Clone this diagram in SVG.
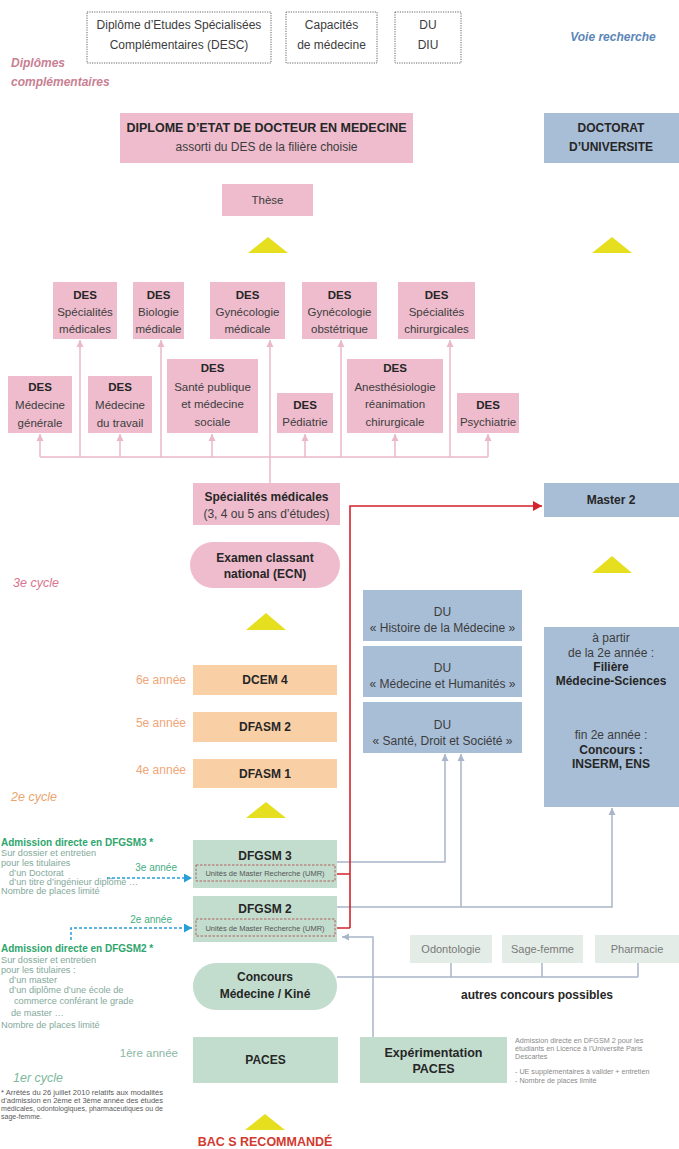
<svg xmlns="http://www.w3.org/2000/svg" width="679" height="1149" viewBox="0 0 679 1149">
<style>
text{font-family:"Liberation Sans",Arial,sans-serif;fill:#3c3c3c}
.c{text-anchor:middle;font-size:12px}
.b{font-weight:bold;fill:#262626}
.s{font-size:11.5px}
.pink{fill:#eebccd}
.blue{fill:#a8bed6}
.orange{fill:#f9cfa6}
.green{fill:#c2ddce}
.pale{fill:#e3ece6}
.dot{fill:#fff;stroke:#666;stroke-width:1;stroke-dasharray:1.2 1.2}
.tri{fill:#e5df1f}
.pl{fill:none;stroke:#eab9c9;stroke-width:1.5}
.gl{fill:none;stroke:#a9b5c8;stroke-width:1.5}
.rl{fill:none;stroke:#d4232b;stroke-width:1.6}
.bl{fill:none;stroke:#2a9fd6;stroke-width:1.5;stroke-dasharray:3 2}
.umr{fill:none;stroke:#b0605c;stroke-width:1;stroke-dasharray:2.5 1.5}
.gh{font-size:10px;font-weight:bold;fill:#2ea56c}
.gt{font-size:9.2px;fill:#83a99a}
.or{fill:#f1a678;font-size:12px;text-anchor:end}
.gr{fill:#45ad82;font-size:10px;text-anchor:end}
.small{font-size:7.2px;fill:#8a8a8a}
.foot{font-size:7px;fill:#5a5a5a}
.lab{font-style:italic;font-size:12.5px}
</style>
<defs>
<marker id="ap" markerUnits="userSpaceOnUse" markerWidth="8" markerHeight="8" refX="7" refY="4" orient="auto"><path d="M0,0.5 L7,4 L0,7.5z" fill="#eab9c9"/></marker>
<marker id="ag" markerUnits="userSpaceOnUse" markerWidth="8" markerHeight="8" refX="7" refY="4" orient="auto"><path d="M0,0.5 L7,4 L0,7.5z" fill="#a9b5c8"/></marker>
<marker id="ar" markerUnits="userSpaceOnUse" markerWidth="10" markerHeight="10" refX="9" refY="5" orient="auto"><path d="M0,0 L9,5 L0,10z" fill="#d4232b"/></marker>
<marker id="ab" markerUnits="userSpaceOnUse" markerWidth="9" markerHeight="9" refX="8" refY="4.5" orient="auto"><path d="M0,0 L8,4.5 L0,9z" fill="#2a9fd6"/></marker>
</defs>
<rect width="679" height="1149" fill="#fff"/>

<!-- labels -->
<g id="labels">
<text x="11" y="67" style="font-size:12px;font-weight:bold;font-style:italic;fill:#c97f92">Diplômes</text>
<text x="11" y="86" style="font-size:12px;font-weight:bold;font-style:italic;fill:#c97f92">complémentaires</text>
<text x="613" y="41" style="font-size:12px;font-weight:bold;font-style:italic;fill:#5b86b8;text-anchor:middle">Voie recherche</text>
<text class="lab" x="13" y="587" style="fill:#d9758e">3e cycle</text>
<text class="lab" x="11" y="801" style="fill:#eba46e">2e cycle</text>
<text class="lab" x="13" y="1082" style="fill:#7db89c">1er cycle</text>
<text class="or" x="186" y="684">6e année</text>
<text class="or" x="186" y="727">5e année</text>
<text class="or" x="186" y="774">4e année</text>
<text class="gr" x="177" y="871">3e année</text>
<text class="gr" x="172" y="923">2e année</text>
<text x="178" y="1057" style="font-size:11.5px;fill:#8cb6a3;text-anchor:end">1ère année</text>
</g>

<g id="admission-dfgsm3">
<text class="gh" x="1" y="846">Admission directe en DFGSM3 *</text>
<text class="gt" x="1" y="856">Sur dossier et entretien</text>
<text class="gt" x="1" y="866">pour les titulaires</text>
<text class="gt" x="9" y="876">d’un Doctorat</text>
<text class="gt" x="9" y="885">d’un titre d’ingénieur diplômé …</text>
<text class="gt" x="1" y="894">Nombre de places limité</text>
</g>
<g id="admission-dfgsm2">
<text class="gh" x="1" y="952">Admission directe en DFGSM2 *</text>
<text class="gt" x="1" y="963">Sur dossier et entretien</text>
<text class="gt" x="1" y="973">pour les titulaires :</text>
<text class="gt" x="9" y="983">d’un master</text>
<text class="gt" x="9" y="993">d’un diplôme d’une école de</text>
<text class="gt" x="14" y="1004">commerce conférant le grade</text>
<text class="gt" x="11" y="1016">de master …</text>
<text class="gt" x="1" y="1028">Nombre de places limité</text>
</g>
<g id="footnote">
<text class="foot" x="1" y="1094.5" textLength="162" lengthAdjust="spacingAndGlyphs">* Arrêtés du 26 juillet 2010 relatifs aux modalités</text>
<text class="foot" x="1" y="1102.5" textLength="162" lengthAdjust="spacingAndGlyphs">d’admission en 2ème et 3ème année des études</text>
<text class="foot" x="1" y="1110.5" textLength="162" lengthAdjust="spacingAndGlyphs">médicales, odontologiques, pharmaceutiques ou de</text>
<text class="foot" x="1" y="1119">sage-femme.</text>
</g>

<!-- connectors -->
<g id="connectors">
<path class="pl" d="M40,457 H488"/>
<path class="pl" d="M270,483 V340" marker-end="url(#ap)"/>
<path class="pl" d="M80,457 V340" marker-end="url(#ap)"/>
<path class="pl" d="M161,457 V340" marker-end="url(#ap)"/>
<path class="pl" d="M341,457 V340" marker-end="url(#ap)"/>
<path class="pl" d="M450,457 V340" marker-end="url(#ap)"/>
<path class="pl" d="M40,457 V434" marker-end="url(#ap)"/>
<path class="pl" d="M120,457 V434" marker-end="url(#ap)"/>
<path class="pl" d="M212,457 V434" marker-end="url(#ap)"/>
<path class="pl" d="M305,457 V434" marker-end="url(#ap)"/>
<path class="pl" d="M395,457 V434" marker-end="url(#ap)"/>
<path class="pl" d="M488,457 V434" marker-end="url(#ap)"/>
<path class="gl" d="M337,862 H445 V754" marker-end="url(#ag)"/>
<path class="gl" d="M337,907 H612 V808" marker-end="url(#ag)"/>
<path class="gl" d="M461,907 V754" marker-end="url(#ag)"/>
<path class="gl" d="M373,1037 V937 H342" marker-end="url(#ag)"/>
<path class="gl" d="M337,977 H638 M451,963 V977 M542,963 V977 M638,963 V977"/>
<path class="rl" d="M335,874 H350 M335,928 H350 M350,928 V506 H542" marker-end="url(#ar)"/>
<path class="bl" d="M107,878 H192" marker-end="url(#ab)"/>
<path class="bl" d="M71,940 V928 H192" marker-end="url(#ab)"/>
</g>

<g id="arrows">
<polygon class="tri" points="248,253 288,253 268,237"/>
<polygon class="tri" points="592,253 632,253 612,237"/>
<polygon class="tri" points="592,573 632,573 612,556"/>
<polygon class="tri" points="246,630 286,630 266,613"/>
<polygon class="tri" points="246,818 286,818 266,802"/>
<polygon class="tri" points="245,1130 285,1130 265,1114"/>
</g>

<!-- top complementary diplomas -->
<g id="desc"><rect class="dot" x="87" y="12" width="184" height="51"/><text class="c" x="179" y="29">Diplôme d’Etudes Spécialisées</text><text class="c" x="179" y="49">Complémentaires (DESC)</text></g>
<g id="capacites"><rect class="dot" x="286" y="12" width="91" height="51"/><text class="c" x="331.5" y="29">Capacités</text><text class="c" x="331.5" y="49">de médecine</text></g>
<g id="du-diu"><rect class="dot" x="395" y="12" width="66" height="51"/><text class="c" x="428" y="29">DU</text><text class="c" x="428" y="49">DIU</text></g>

<g id="diplome"><rect class="pink" x="120" y="113" width="293" height="50"/><text class="c b" x="266.5" y="132" style="font-size:12.5px">DIPLOME D’ETAT DE DOCTEUR EN MEDECINE</text><text class="c" x="266.5" y="151">assorti du DES de la filière choisie</text></g>
<g id="doctorat"><rect class="blue" x="544" y="113" width="135" height="50"/><text class="c b" x="611" y="132">DOCTORAT</text><text class="c b" x="611" y="151">D’UNIVERSITE</text></g>
<g id="these"><rect class="pink" x="222" y="184" width="91" height="32"/><text class="c s" x="267.5" y="204">Thèse</text></g>

<!-- DES row 1 -->
<g id="des-spec-med"><rect class="pink" x="53" y="282" width="64" height="57"/><text class="c s b" x="85" y="299">DES</text><text class="c s" x="85" y="316">Spécialités</text><text class="c s" x="85" y="333">médicales</text></g>
<g id="des-bio"><rect class="pink" x="133" y="282" width="51" height="57"/><text class="c s b" x="158.5" y="299">DES</text><text class="c s" x="158.5" y="316">Biologie</text><text class="c s" x="158.5" y="333">médicale</text></g>
<g id="des-gyn-med"><rect class="pink" x="210" y="282" width="75" height="57"/><text class="c s b" x="247.5" y="299">DES</text><text class="c s" x="247.5" y="316">Gynécologie</text><text class="c s" x="247.5" y="333">médicale</text></g>
<g id="des-gyn-obs"><rect class="pink" x="302" y="282" width="75" height="57"/><text class="c s b" x="339.5" y="299">DES</text><text class="c s" x="339.5" y="316">Gynécologie</text><text class="c s" x="339.5" y="333">obstétrique</text></g>
<g id="des-spec-chir"><rect class="pink" x="398" y="282" width="77" height="57"/><text class="c s b" x="436.5" y="299">DES</text><text class="c s" x="436.5" y="316">Spécialités</text><text class="c s" x="436.5" y="333">chirurgicales</text></g>

<!-- DES row 2 -->
<g id="des-med-gen"><rect class="pink" x="8" y="376" width="64" height="57"/><text class="c s b" x="40" y="391">DES</text><text class="c s" x="40" y="409">Médecine</text><text class="c s" x="40" y="427">générale</text></g>
<g id="des-med-trav"><rect class="pink" x="88" y="376" width="64" height="57"/><text class="c s b" x="120" y="391">DES</text><text class="c s" x="120" y="409">Médecine</text><text class="c s" x="120" y="427">du travail</text></g>
<g id="des-sante"><rect class="pink" x="167" y="359" width="91" height="74"/><text class="c s b" x="212.5" y="372">DES</text><text class="c s" x="212.5" y="391">Santé publique</text><text class="c s" x="212.5" y="408">et médecine</text><text class="c s" x="212.5" y="426">sociale</text></g>
<g id="des-ped"><rect class="pink" x="277" y="393" width="56" height="40"/><text class="c s b" x="305" y="409">DES</text><text class="c s" x="305" y="426">Pédiatrie</text></g>
<g id="des-anesth"><rect class="pink" x="347" y="359" width="96" height="74"/><text class="c s b" x="395" y="372">DES</text><text class="c s" x="395" y="391">Anesthésiologie</text><text class="c s" x="395" y="408">réanimation</text><text class="c s" x="395" y="426">chirurgicale</text></g>
<g id="des-psy"><rect class="pink" x="457" y="393" width="62" height="40"/><text class="c s b" x="488" y="409">DES</text><text class="c s" x="488" y="426">Psychiatrie</text></g>

<!-- main column -->
<g id="spec-med"><rect class="pink" x="193" y="483" width="147" height="42"/><text class="c b" x="266.5" y="501">Spécialités médicales</text><text class="c" x="266.5" y="518">(3, 4 ou 5 ans d’études)</text></g>
<g id="master2"><rect class="blue" x="544" y="483" width="135" height="34"/><text class="c b" x="611" y="504">Master 2</text></g>
<g id="ecn"><rect class="pink" x="190" y="542" width="150" height="46" rx="23"/><text class="c b" x="265" y="562">Examen classant</text><text class="c b" x="265" y="578">national (ECN)</text></g>
<g id="du-histoire"><rect class="blue" x="363" y="590" width="159" height="51"/><text class="c" x="442.5" y="616">DU</text><text class="c" x="442.5" y="632">« Histoire de la Médecine »</text></g>
<g id="du-humanites"><rect class="blue" x="363" y="646" width="159" height="51"/><text class="c" x="442.5" y="672">DU</text><text class="c" x="442.5" y="688">« Médecine et Humanités »</text></g>
<g id="du-sante"><rect class="blue" x="363" y="702" width="159" height="51"/><text class="c" x="442.5" y="729">DU</text><text class="c" x="442.5" y="745">« Santé, Droit et Société »</text></g>
<g id="filiere"><rect class="blue" x="544" y="627" width="135" height="180"/>
<text class="c" x="611" y="642">à partir</text>
<text class="c" x="611" y="657">de la 2e année :</text>
<text class="c b" x="611" y="671">Filière</text>
<text class="c b" x="611" y="685">Médecine-Sciences</text>
<text class="c" x="611" y="739">fin 2e année :</text>
<text class="c b" x="611" y="754">Concours :</text>
<text class="c b" x="611" y="768">INSERM, ENS</text></g>
<g id="dcem4"><rect class="orange" x="193" y="665" width="144" height="30"/><text class="c b" x="265" y="684">DCEM 4</text></g>
<g id="dfasm2"><rect class="orange" x="193" y="712" width="144" height="30"/><text class="c b" x="265" y="731">DFASM 2</text></g>
<g id="dfasm1"><rect class="orange" x="193" y="759" width="144" height="29"/><text class="c b" x="265" y="778">DFASM 1</text></g>
<g id="dfgsm3"><rect class="green" x="193" y="840" width="144" height="48"/><text class="c b" x="265" y="860">DFGSM 3</text><rect class="umr" x="196" y="865" width="139" height="16"/><text class="c" x="265" y="876" style="font-size:7.5px;fill:#555">Unités de Master Recherche (UMR)</text></g>
<g id="dfgsm2"><rect class="green" x="193" y="896" width="144" height="46"/><text class="c b" x="265" y="913">DFGSM 2</text><rect class="umr" x="196" y="919" width="139" height="17"/><text class="c" x="265" y="930.5" style="font-size:7.5px;fill:#555">Unités de Master Recherche (UMR)</text></g>
<g id="odontologie"><rect class="pale" x="410" y="935" width="82" height="28"/><text class="c" x="451" y="953" style="font-size:11px;fill:#7a7a7a">Odontologie</text></g>
<g id="sage-femme"><rect class="pale" x="502" y="935" width="81" height="28"/><text class="c" x="542.5" y="953" style="font-size:11px;fill:#7a7a7a">Sage-femme</text></g>
<g id="pharmacie"><rect class="pale" x="595" y="935" width="84" height="28"/><text class="c" x="637" y="953" style="font-size:11px;fill:#7a7a7a">Pharmacie</text></g>
<g id="concours"><rect class="green" x="193" y="963" width="144" height="47" rx="23"/><text class="c b" x="265" y="981">Concours</text><text class="c b" x="265" y="998">Médecine / Kiné</text></g>
<text class="c b" x="537" y="999">autres concours possibles</text>
<g id="paces"><rect class="green" x="193" y="1037" width="145" height="46"/><text class="c b" x="265.5" y="1064">PACES</text></g>
<g id="experimentation"><rect class="green" x="360" y="1037" width="147" height="46"/><text class="c b" x="433.5" y="1057" style="font-size:12.5px">Expérimentation</text><text class="c b" x="433.5" y="1073" style="font-size:12.5px">PACES</text></g>
<g id="exp-note">
<text class="small" x="515" y="1042.5">Admission directe en DFGSM 2 pour les</text>
<text class="small" x="515" y="1050.5">étudiants en Licence à l’Université Paris</text>
<text class="small" x="515" y="1059">Descartes</text>
<text class="small" x="515" y="1074">- UE supplémentaires à valider + entretien</text>
<text class="small" x="515" y="1083">- Nombre de places limité</text>
</g>
<text class="c b" x="265" y="1146" style="fill:#d23a30;font-size:12.5px">BAC S RECOMMANDÉ</text>
</svg>
